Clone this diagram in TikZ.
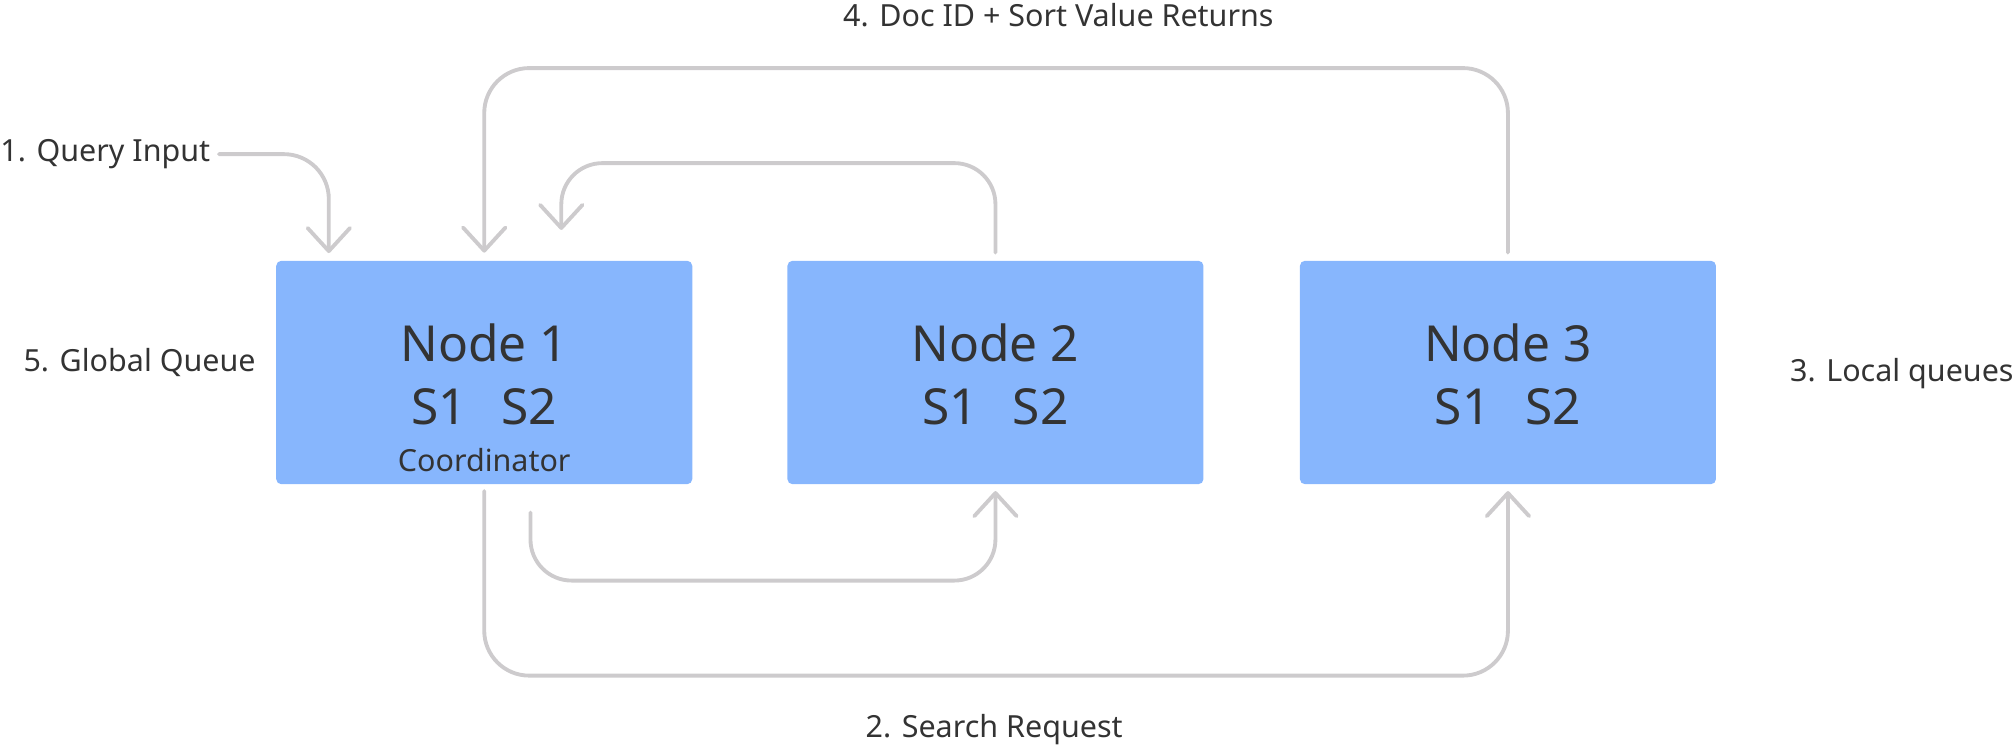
\documentclass[tikz,border=0pt]{standalone}
\usepackage{fontspec}
\setmainfont{Noto Sans}
\usetikzlibrary{arrows.meta}
\definecolor{boxblue}{HTML}{87B6FD}
\definecolor{wire}{HTML}{CDCBCD}
\definecolor{ink}{HTML}{333333}

\begin{document}
\begin{tikzpicture}[x=0.02cm, y=-0.02cm,
    box/.style={fill=boxblue, rounded corners=0.08cm, minimum width=6.48cm, minimum height=3.48cm, inner sep=0pt},
    title/.style={text=ink, inner sep=0pt, font=\fontsize{22}{26}\selectfont},
    note/.style={text=ink, inner sep=0pt, font=\fontsize{13.5}{16}\selectfont},
    flow/.style={draw=wire, line width=0.06cm, rounded corners=0.7cm, line cap=round,
        -{Straight Barb[length=0.36cm, width=0.66cm, line cap=round, line join=round]}}]
    \useasboundingbox (0,0) rectangle (1568,582);
    % nodes
    \node[box] (n1) at (377,290) {};
    \node[box] (n2) at (775,290) {};
    \node[box] (n3) at (1174,290) {};
    \node[title] (t1) at (377,267) {Node 1};
    \node[title] (s1) at (377,317) {S1\hspace{0.7em}S2};
    \node[note] (c1) at (377,358) {Coordinator};
    \node[title] (t2) at (775,267) {Node 2};
    \node[title] (s2) at (775,317) {S1\hspace{0.7em}S2};
    \node[title] (t3) at (1174,267) {Node 3};
    \node[title] (s3) at (1174,317) {S1\hspace{0.7em}S2};
    % labels
    \node[note, anchor=west] (qin) at (0,120) {1. Query Input};
    \node[note] (doc) at (824,12) {4. Doc ID + Sort Value Returns};
    \node[note, anchor=west] (glob) at (18,282) {5. Global Queue};
    \node[note, anchor=east] (loc) at (1568,291) {3. Local queues};
    \node[note] (req) at (774,568) {2. Search Request};
    % turning points
    \coordinate (in1) at (256,197);
    \coordinate (back) at (775,53);
    \coordinate (loop) at (600,127);
    \coordinate (in1b) at (437,179);
    \coordinate (far) at (775,526);
    \coordinate (near) at (600,452);
    \coordinate (out1b) at (413,399);
    % connectors
    \draw[flow] ([xshift=0.13cm]qin.east) -| (in1);
    \draw[flow] ([yshift=0.12cm]n3.north) |- (back) -| ([yshift=0.12cm]n1.north);
    \draw[flow, rounded corners=0.64cm] ([yshift=0.12cm]n2.north) |- (loop) -| (in1b);
    \draw[flow] ([yshift=-0.1cm]n1.south) |- (far) -| ([yshift=-0.1cm]n3.south);
    \draw[flow, rounded corners=0.64cm] (out1b) |- (near) -| ([yshift=-0.1cm]n2.south);
\end{tikzpicture}
\end{document}
